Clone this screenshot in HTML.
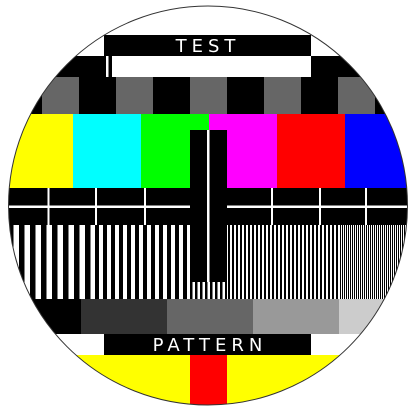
<!DOCTYPE html>
<html><head><meta charset="utf-8"><style>html,body{margin:0;padding:0;background:#fff}svg{display:block}</style></head>
<body>
<svg width="417" height="413" viewBox="0 0 417 413" xmlns="http://www.w3.org/2000/svg">
<defs>
<clipPath id="c"><circle cx="208" cy="205.5" r="199.5"/></clipPath>
<pattern id="g1" x="8" y="0" width="11" height="10" patternUnits="userSpaceOnUse"><rect width="11" height="10" fill="#000"/><rect x="5.5" width="5.5" height="10" fill="#fff"/></pattern>
<pattern id="g2" x="95" y="0" width="8" height="10" patternUnits="userSpaceOnUse"><rect width="8" height="10" fill="#000"/><rect x="4" width="4" height="10" fill="#fff"/></pattern>
<pattern id="g3" x="0" y="0" width="4" height="10" patternUnits="userSpaceOnUse"><rect width="4" height="10" fill="#000"/><rect x="2" width="2" height="10" fill="#fff"/></pattern>
<pattern id="g4" x="0" y="0" width="2" height="10" patternUnits="userSpaceOnUse"><rect width="2" height="10" fill="#000"/><rect x="1" width="1" height="10" fill="#fff"/></pattern>
<pattern id="g5" x="190" y="0" width="5" height="10" patternUnits="userSpaceOnUse"><rect width="5" height="10" fill="#000"/><rect x="2.5" width="2.5" height="10" fill="#fff"/></pattern>
</defs>
<g clip-path="url(#c)">
<rect x="0" y="0" width="417" height="413" fill="#fff"/>
<rect x="104" y="35" width="207" height="21" fill="#000"/>
<rect x="0" y="56" width="417" height="21" fill="#000"/>
<rect x="112" y="56" width="199" height="21" fill="#fff"/>
<rect x="106" y="56" width="2.5" height="21" fill="#fff"/>
<rect x="0" y="77" width="417" height="37" fill="#000"/>
<g fill="#666">
<rect x="42" y="77" width="37" height="37"/><rect x="116" y="77" width="37" height="37"/><rect x="190" y="77" width="37" height="37"/><rect x="264" y="77" width="37" height="37"/><rect x="338" y="77" width="37" height="37"/>
</g>
<g>
<rect x="0" y="114" width="73" height="74" fill="#ff0"/>
<rect x="73" y="114" width="68" height="74" fill="#0ff"/>
<rect x="141" y="114" width="68" height="74" fill="#0f0"/>
<rect x="209" y="114" width="68" height="74" fill="#f0f"/>
<rect x="277" y="114" width="68" height="74" fill="#f00"/>
<rect x="345" y="114" width="72" height="74" fill="#00f"/>
</g>
<rect x="0" y="188" width="417" height="37" fill="#000"/>
<rect x="0" y="205.5" width="417" height="2.5" fill="#fff"/>
<g fill="#fff">
<rect x="47.5" y="188" width="2" height="37"/><rect x="95" y="188" width="2" height="37"/><rect x="144" y="188" width="2" height="37"/><rect x="271" y="188" width="2" height="37"/><rect x="319" y="188" width="2" height="37"/><rect x="365" y="188" width="2" height="37"/>
</g>
<g>
<rect x="0" y="225" width="95" height="74" fill="url(#g1)"/>
<rect x="95" y="225" width="95" height="74" fill="url(#g2)"/>
<rect x="190" y="225" width="37" height="74" fill="url(#g5)"/>
<rect x="227" y="225" width="113" height="74" fill="url(#g3)"/>
<rect x="340" y="225" width="77" height="74" fill="url(#g4)"/>
</g>
<rect x="190" y="130" width="37" height="152" fill="#000"/>
<rect x="207" y="130" width="2.5" height="152" fill="#fff"/>
<g>
<rect x="0" y="299" width="81" height="35" fill="#000"/>
<rect x="81" y="299" width="86" height="35" fill="#333"/>
<rect x="167" y="299" width="86" height="35" fill="#666"/>
<rect x="253" y="299" width="86" height="35" fill="#999"/>
<rect x="339" y="299" width="78" height="35" fill="#ccc"/>
</g>
<rect x="104" y="334" width="207" height="21" fill="#000"/>
<rect x="0" y="355" width="417" height="58" fill="#ff0"/>
<rect x="190" y="355" width="37" height="58" fill="#f00"/>
<text x="208" y="52" text-anchor="middle" fill="#fff" font-family="DejaVu Sans, Liberation Sans, sans-serif" font-size="18" letter-spacing="5">TEST</text>
<text x="210" y="351" text-anchor="middle" fill="#fff" font-family="DejaVu Sans, Liberation Sans, sans-serif" font-size="18" letter-spacing="5">PATTERN</text>
</g>
<circle cx="208" cy="205.5" r="199.5" fill="none" stroke="#333" stroke-width="1"/>
</svg>
</body></html>
